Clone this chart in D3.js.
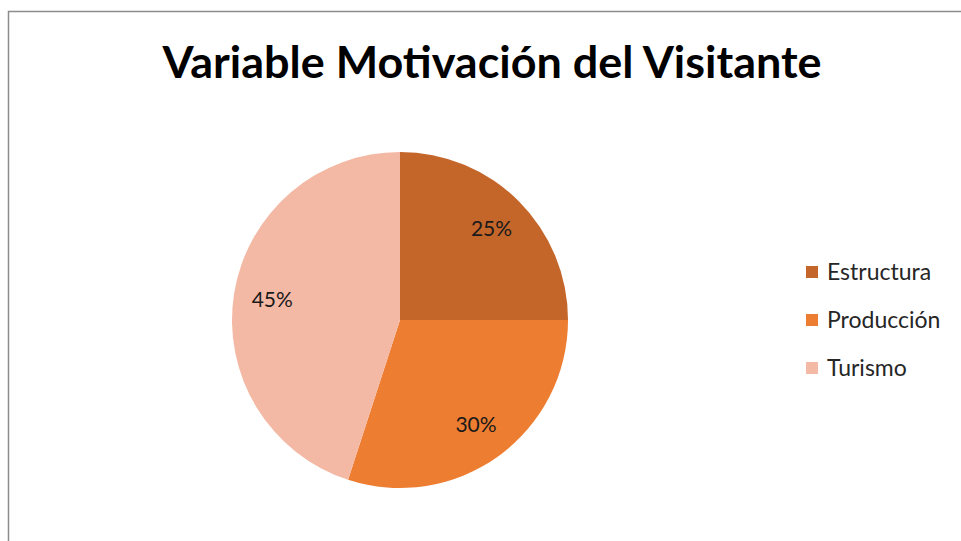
<!DOCTYPE html>
<html>
<head>
<meta charset="utf-8">
<script src="https://cdn.jsdelivr.net/npm/d3@7"></script>
<style>
  body { margin: 0; background: #fff; }
  svg { display: block; font-family: Lato, "Open Sans", sans-serif; }
</style>
</head>
<body>
<div id="chart"></div>
<script>
// Datos del gráfico
const categories = ["Estructura", "Producción", "Turismo"];
const values = [25, 30, 45];
const colors = ["#C4652A", "#ED7D31", "#F4B9A5"];
const title = "Variable Motivación del Visitante";

const width = 961, height = 541;
const cx = 400, cy = 320, radius = 168;

const svg = d3.select("#chart").append("svg")
  .attr("width", width)
  .attr("height", height);

// Borde del área del gráfico
svg.append("path")
  .attr("d", `M8.5,${height} V11.5 H${width}`)
  .attr("fill", "none")
  .attr("stroke", "#8c8c8c")
  .attr("stroke-width", 1.5);

// Título
svg.append("text")
  .attr("x", 492)
  .attr("y", 78)
  .attr("text-anchor", "middle")
  .attr("font-weight", "bold")
  .attr("font-size", 44)
  .attr("textLength", 659)
  .attr("lengthAdjust", "spacingAndGlyphs")
  .attr("fill", "#000")
  .text(title);

const data = categories.map((c, i) => ({ name: c, value: values[i] }));

const pie = d3.pie().sort(null).value(d => d.value);
const arc = d3.arc().innerRadius(0).outerRadius(radius);
const labelArc = d3.arc().innerRadius(radius * 0.77).outerRadius(radius * 0.77);

const color = d3.scaleOrdinal().domain(categories).range(colors);

const g = svg.append("g").attr("transform", `translate(${cx},${cy})`);
const arcs = pie(data);

g.selectAll("path")
  .data(arcs)
  .enter().append("path")
  .attr("d", arc)
  .attr("fill", d => color(d.data.name));

g.selectAll("text")
  .data(arcs)
  .enter().append("text")
  .attr("transform", d => `translate(${labelArc.centroid(d)})`)
  .attr("text-anchor", "middle")
  .attr("dy", "0.35em")
  .attr("font-size", 21)
  .attr("fill", "#1a1a1a")
  .text(d => d.data.value + "%");

// Leyenda
const legend = svg.append("g").attr("transform", "translate(806,272)");
const rowY = d3.scalePoint().domain(categories).range([0, 96]);

const item = legend.selectAll("g")
  .data(categories)
  .enter().append("g")
  .attr("transform", d => `translate(0,${rowY(d)})`);

item.append("rect")
  .attr("x", 0).attr("y", -6)
  .attr("width", 12).attr("height", 12)
  .attr("fill", d => color(d));

item.append("text")
  .attr("x", 21)
  .attr("dy", "0.35em")
  .attr("font-size", 23)
  .attr("fill", "#262626")
  .text(d => d);
</script>
</body>
</html>
